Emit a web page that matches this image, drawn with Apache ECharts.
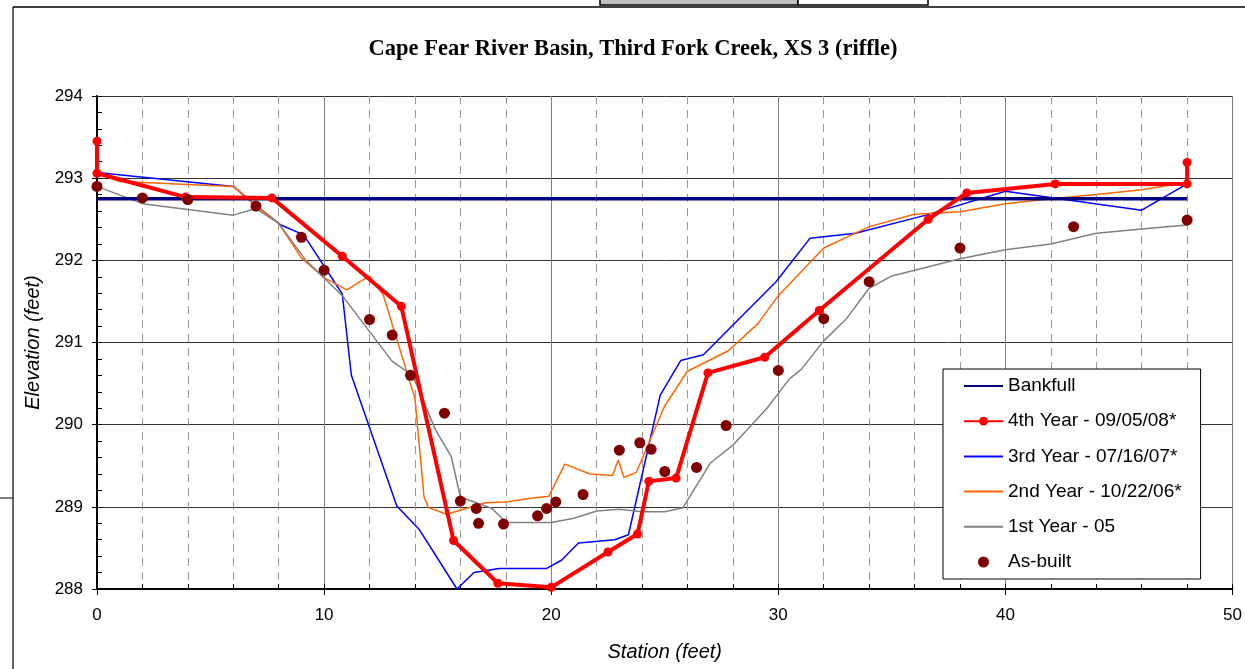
<!DOCTYPE html>
<html>
<head>
<meta charset="utf-8">
<script src="https://cdn.jsdelivr.net/npm/echarts@6/dist/echarts.min.js"></script>
<style>
html,body{margin:0;padding:0;background:#fff;}
#chart{width:1245px;height:669px;}
</style>
</head>
<body>
<div id="chart"></div>
<script>
const titleText = 'Cape Fear River Basin, Third Fork Creek, XS 3 (riffle)';
const xAxisName = 'Station (feet)';
const yAxisName = 'Elevation (feet)';
const seriesNames = ['Bankfull', '4th Year - 09/05/08*', '3rd Year - 07/16/07*', '2nd Year - 10/22/06*', '1st Year - 05', 'As-built'];

const bankfull = [[0, 292.75], [48, 292.75]];

const year4 = [[0, 293.45], [0, 293.06], [3.9, 292.77], [7.7, 292.76], [10.8, 292.05], [13.4, 291.44], [15.7, 288.59], [17.65, 288.07], [20.0, 288.02], [22.5, 288.45], [23.8, 288.67], [24.3, 289.31], [25.5, 289.35], [26.9, 290.63], [29.4, 290.82], [31.8, 291.39], [36.6, 292.5], [38.3, 292.82], [42.2, 292.93], [48, 292.93], [48, 293.19]];

const year3 = [[0, 293.07], [6.0, 292.9], [6.9, 292.69], [8.1, 292.43], [9.1, 292.31], [10.8, 291.59], [11.2, 290.6], [13.2, 289.01], [14.2, 288.72], [15.85, 288.0], [16.6, 288.2], [17.7, 288.25], [19.8, 288.25], [20.45, 288.35], [21.2, 288.56], [22.8, 288.6], [23.4, 288.66], [24.8, 290.36], [25.7, 290.78], [26.7, 290.85], [29.9, 291.74], [31.4, 292.27], [33.4, 292.33], [36.5, 292.55], [40.0, 292.84], [46.0, 292.61], [48, 292.93]];

const year2 = [[0, 293.06], [1.0, 292.96], [6.0, 292.9], [6.9, 292.69], [8.0, 292.45], [9.0, 292.03], [10.0, 291.79], [11.0, 291.64], [12.0, 291.81], [12.6, 291.58], [14.0, 290.32], [14.4, 289.12], [14.6, 288.99], [15.4, 288.91], [17.1, 289.05], [18.0, 289.06], [19.0, 289.1], [19.9, 289.13], [20.6, 289.52], [21.7, 289.4], [22.7, 289.38], [22.95, 289.57], [23.2, 289.36], [23.75, 289.42], [25.0, 290.23], [26.0, 290.65], [27.8, 290.9], [29.1, 291.23], [30.0, 291.57], [32.0, 292.15], [34.0, 292.41], [36.0, 292.56], [38.0, 292.59], [40.0, 292.69], [42.0, 292.75], [44.0, 292.8], [46.0, 292.86], [48, 292.95]];

const year1 = [[0, 292.9], [2.0, 292.69], [6.0, 292.55], [7.0, 292.63], [8.0, 292.45], [9.2, 292.0], [10.8, 291.57], [13.0, 290.77], [13.9, 290.6], [14.9, 289.94], [15.6, 289.61], [16.0, 289.12], [17.4, 288.98], [18.0, 288.81], [20.0, 288.81], [21.0, 288.86], [22.0, 288.95], [23.0, 288.97], [24.0, 288.94], [25.0, 288.94], [25.8, 288.99], [27.0, 289.53], [28.0, 289.75], [29.5, 290.2], [30.5, 290.56], [31.0, 290.67], [32.0, 291.02], [33.0, 291.29], [34.0, 291.66], [35.0, 291.81], [36.0, 291.88], [38.0, 292.02], [40.0, 292.13], [42.0, 292.2], [44.0, 292.33], [46.0, 292.38], [48, 292.43]];

const asBuilt = [[0, 292.9], [2.0, 292.76], [4.0, 292.74], [7.0, 292.66], [9.0, 292.28], [10.0, 291.88], [12.0, 291.28], [13.0, 291.09], [13.8, 290.6], [15.3, 290.14], [16.0, 289.07], [16.7, 288.98], [16.8, 288.8], [17.9, 288.79], [19.4, 288.89], [19.8, 288.98], [20.2, 289.06], [21.4, 289.15], [23.0, 289.69], [23.9, 289.78], [24.4, 289.7], [25.0, 289.43], [26.4, 289.48], [27.7, 289.99], [30.0, 290.66], [32.0, 291.29], [34.0, 291.74], [38.0, 292.15], [43.0, 292.41], [48.0, 292.49]];

const xMin = 0, xMax = 50, xStep = 10;
const yMin = 288, yMax = 294, yStep = 1;

const FONT = 'Liberation Sans';
const chart = echarts.init(document.getElementById('chart'), null, {renderer: 'canvas'});

const hideSym = {opacity: 0};
const option = {
  animation: false,
  backgroundColor: '#fff',
  title: {
    text: titleText,
    left: 633, top: 38, padding: 0,
    textAlign: 'center',
    textStyle: {fontFamily: 'Liberation Serif', fontWeight: 'bold', fontSize: 22.5, color: '#000'}
  },
  grid: {left: 97, right: 8, top: 96, bottom: 80, containLabel: false},
  legend: {
    data: [
      {name: seriesNames[0], itemStyle: hideSym},
      {name: seriesNames[1]},
      {name: seriesNames[2], itemStyle: hideSym},
      {name: seriesNames[3], itemStyle: hideSym},
      {name: seriesNames[4], itemStyle: hideSym},
      {name: seriesNames[5]}
    ],
    orient: 'vertical',
    left: 943, top: 369,
    itemWidth: 39, itemHeight: 11, itemGap: 16.2,
    padding: [7.5, 19, 7.5, 20],
    borderColor: '#000', borderWidth: 1, borderRadius: 0,
    backgroundColor: '#fff',
    textStyle: {fontFamily: FONT, fontSize: 19, color: '#000', lineHeight: 19}
  },
  xAxis: [{
    type: 'value', min: xMin, max: xMax, interval: xStep, position: 'bottom',
    name: xAxisName, nameLocation: 'middle', nameGap: 53,
    nameTextStyle: {fontFamily: FONT, fontSize: 20, fontStyle: 'italic', color: '#000'},
    axisLine: {onZero: false, lineStyle: {color: '#000', width: 2}},
    axisTick: {show: true, inside: false, length: 6, lineStyle: {color: '#000', width: 1}},
    axisLabel: {fontFamily: FONT, fontSize: 17, color: '#000', margin: 18},
    splitLine: {show: true, lineStyle: {color: '#808080', width: 1}},
    minorTick: {show: false, splitNumber: 5},
    minorSplitLine: {show: true, lineStyle: {color: '#999', width: 1, type: [8, 6]}}
  }, {
    type: 'value', min: xMin, max: xMax, interval: xStep, position: 'bottom',
    axisLine: {show: false, onZero: false},
    axisLabel: {show: false},
    splitLine: {show: false},
    axisTick: {show: true, inside: true, length: 5, lineStyle: {color: '#000'}},
    minorTick: {show: true, splitNumber: 5, length: 5, lineStyle: {color: '#000'}}
  }],
  yAxis: [{
    type: 'value', min: yMin, max: yMax, interval: yStep, position: 'left',
    name: yAxisName, nameLocation: 'middle', nameGap: 43,
    nameTextStyle: {fontFamily: FONT, fontSize: 20, fontStyle: 'italic', color: '#000'},
    axisLine: {show: true, onZero: false, lineStyle: {color: '#000', width: 2}},
    axisTick: {show: true, inside: false, length: 5, lineStyle: {color: '#000', width: 1}},
    axisLabel: {fontFamily: FONT, fontSize: 17, color: '#000', margin: 14},
    splitLine: {show: true, lineStyle: {color: '#333', width: 1}}
  }, {
    type: 'value', min: yMin, max: yMax, interval: yStep, position: 'left',
    axisLine: {show: false, onZero: false},
    axisLabel: {show: false},
    splitLine: {show: false},
    axisTick: {show: true, inside: true, length: 5, lineStyle: {color: '#000'}},
    minorTick: {show: true, splitNumber: 5, length: 5, lineStyle: {color: '#000'}}
  }],
  series: [
    {name: seriesNames[0], type: 'line', data: bankfull, symbol: 'none', z: 3,
     itemStyle: {color: '#000080'}, lineStyle: {color: '#000080', width: 3.5}},
    {name: seriesNames[1], type: 'line', data: year4, symbol: 'circle', symbolSize: 9, z: 4,
     itemStyle: {color: '#ff0000'}, lineStyle: {color: '#ff0000', width: 4}},
    {name: seriesNames[2], type: 'line', data: year3, symbol: 'none', z: 2,
     itemStyle: {color: '#0000ff'}, lineStyle: {color: '#0000ff', width: 1.5}},
    {name: seriesNames[3], type: 'line', data: year2, symbol: 'none', z: 2,
     itemStyle: {color: '#ff6600'}, lineStyle: {color: '#ff6600', width: 1.5}},
    {name: seriesNames[4], type: 'line', data: year1, symbol: 'none', z: 2,
     itemStyle: {color: '#808080'}, lineStyle: {color: '#808080', width: 1.5}},
    {name: seriesNames[5], type: 'scatter', data: asBuilt, symbol: 'circle', symbolSize: 11, z: 5,
     itemStyle: {color: '#800000', opacity: 1}}
  ],
  graphic: [
    {type: 'line', shape: {x1: 13, y1: 7, x2: 1245, y2: 7}, style: {stroke: '#404040', lineWidth: 2}, silent: true},
    {type: 'line', shape: {x1: 13, y1: 7, x2: 13, y2: 669}, style: {stroke: '#000', lineWidth: 1.2}, silent: true},
    {type: 'line', shape: {x1: 0, y1: 498, x2: 13, y2: 498}, style: {stroke: '#000', lineWidth: 1}, silent: true},
    {type: 'rect', shape: {x: 600, y: -3, width: 198, height: 8}, style: {fill: '#c0c0c0', stroke: '#000', lineWidth: 1.5}, silent: true},
    {type: 'rect', shape: {x: 798, y: -3, width: 130, height: 8}, style: {fill: '#fff', stroke: '#000', lineWidth: 1.5}, silent: true}
  ]
};
chart.setOption(option);
</script>
</body>
</html>
